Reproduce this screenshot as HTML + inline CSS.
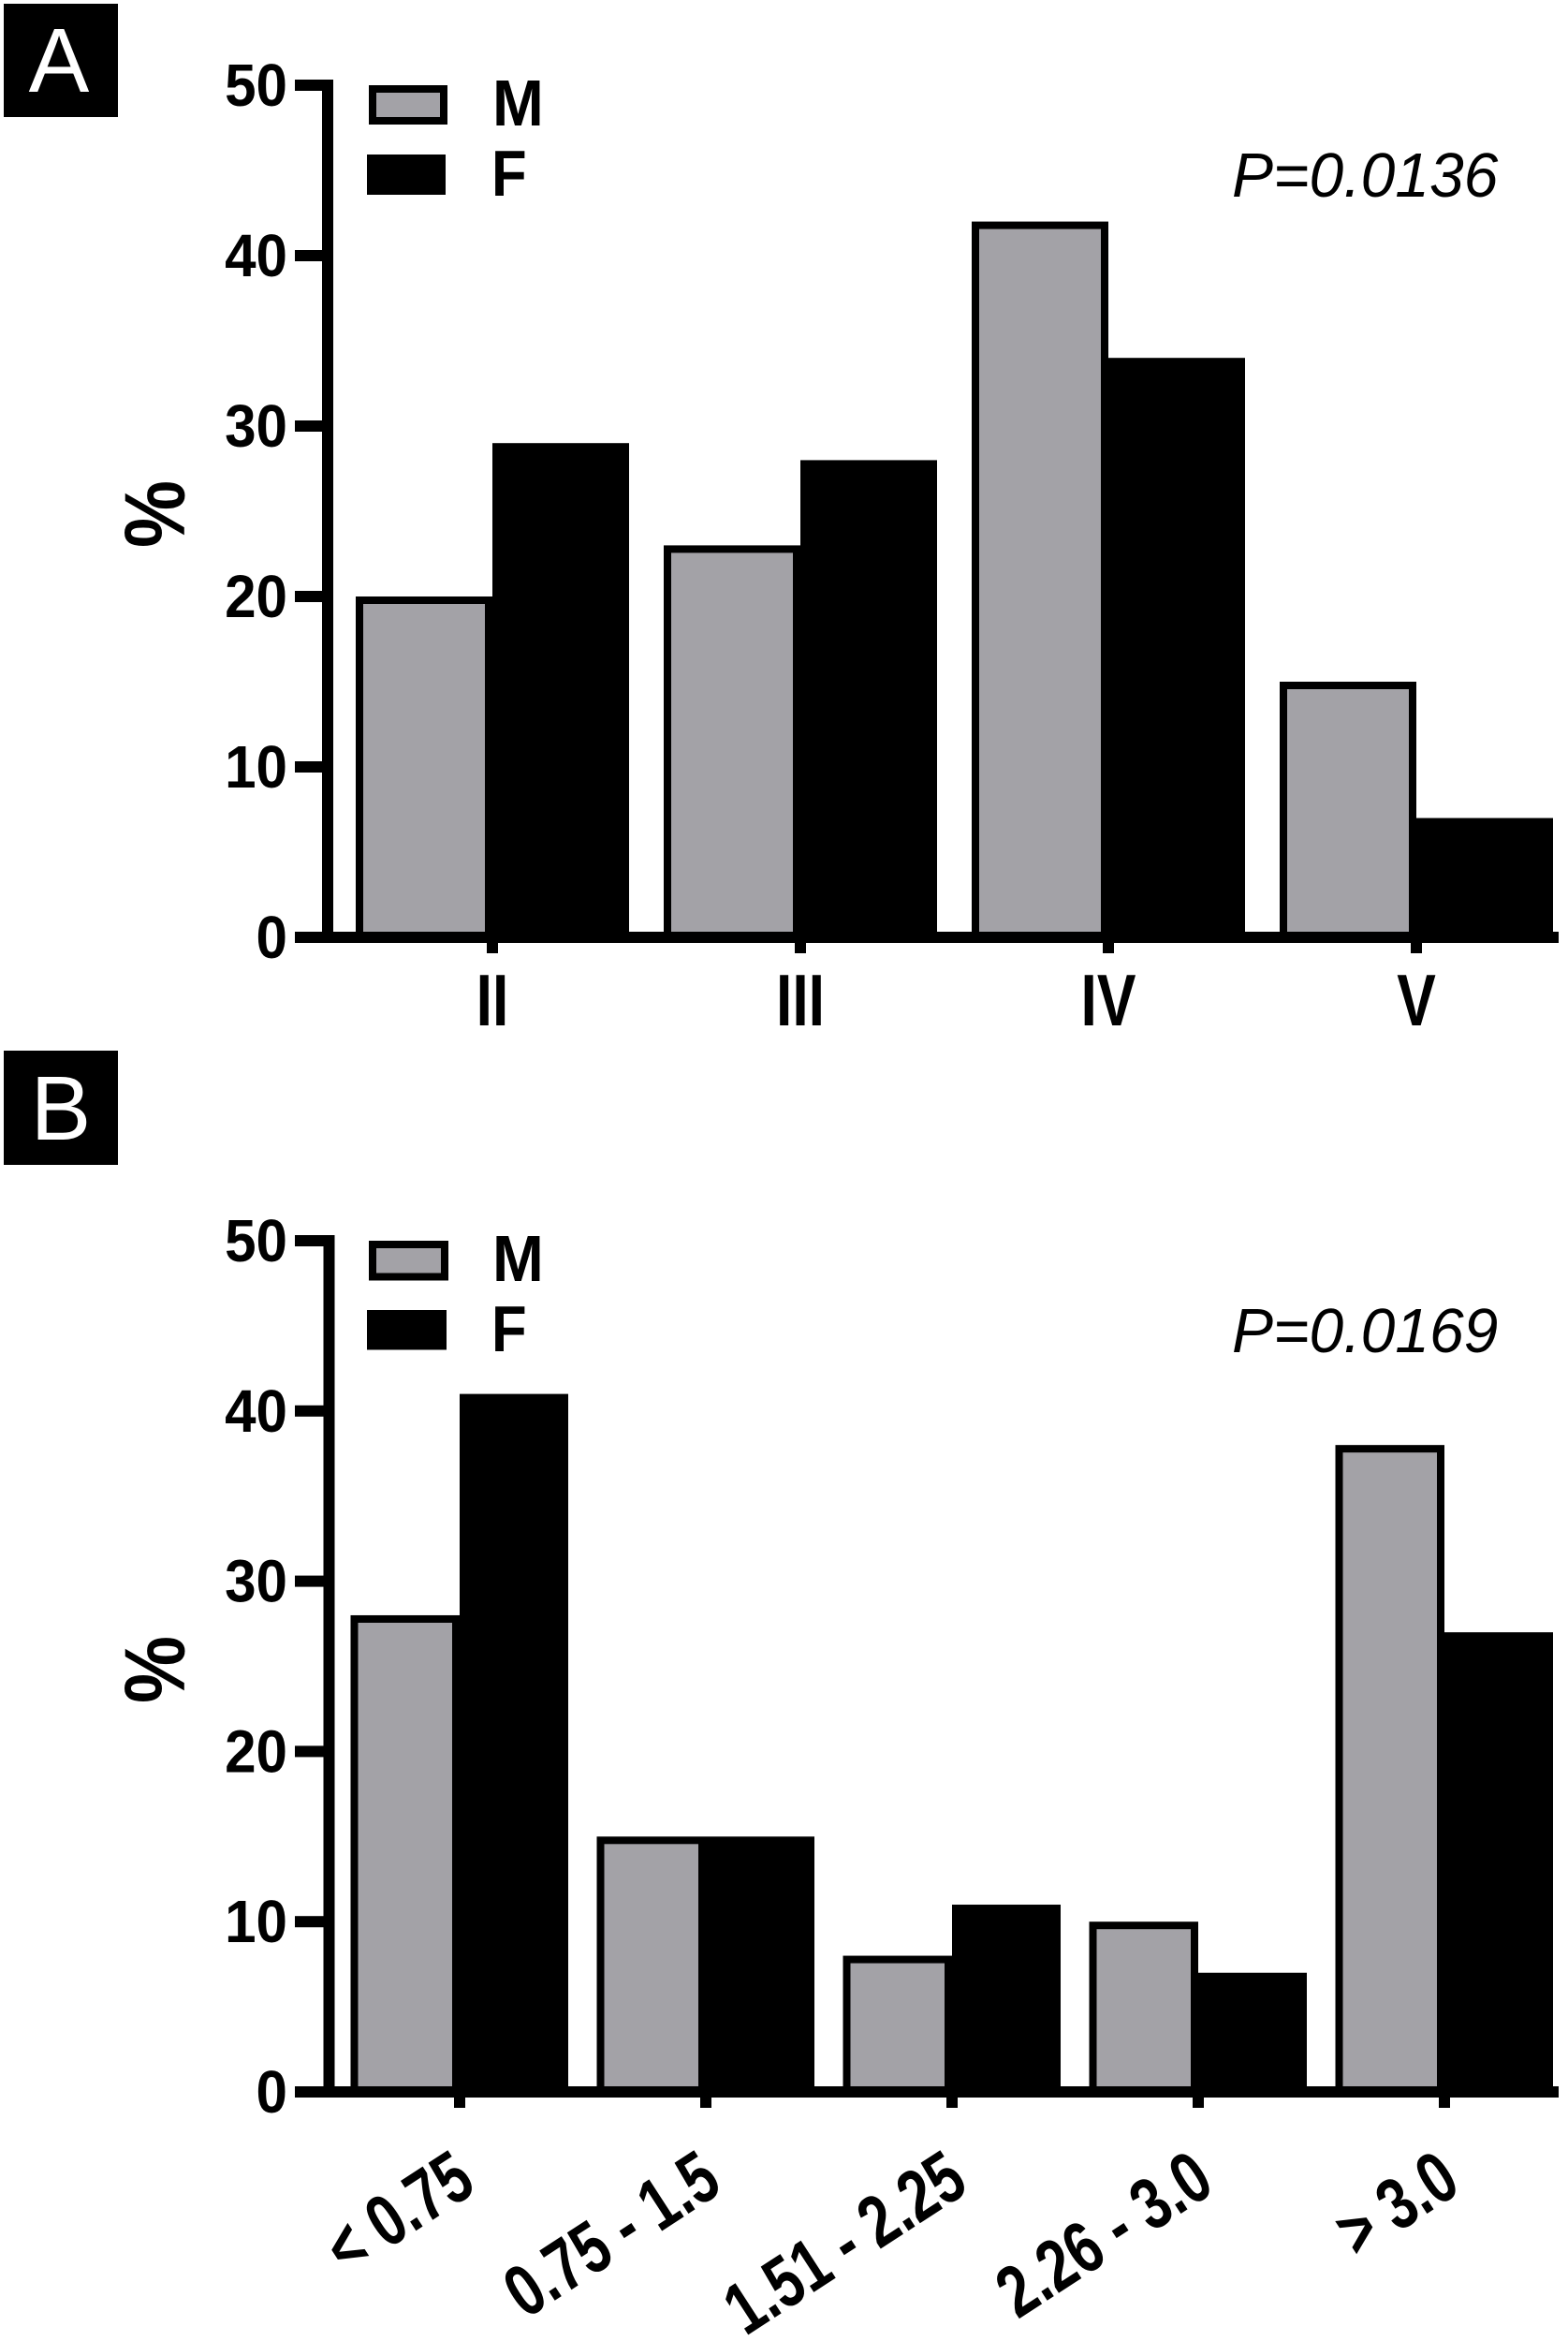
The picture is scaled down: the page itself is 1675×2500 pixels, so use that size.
<!DOCTYPE html>
<html>
<head>
<meta charset="utf-8">
<title>Bar charts A and B</title>
<style>
html,body{margin:0;padding:0;background:#fff;}
svg{display:block;}
text{font-family:"Liberation Sans",sans-serif;fill:#000;}
</style>
</head>
<body>
<svg id="figure" xmlns="http://www.w3.org/2000/svg" width="1675" height="2500" viewBox="0 0 1675 2500">
  <rect x="0" y="0" width="1675" height="2500" fill="#fff"/>

  <rect x="4" y="4" width="122" height="121" fill="#000"/>
  <text x="63" y="98" font-size="97" text-anchor="middle" style="fill:#fff">A</text>
  <rect x="4" y="1122" width="122" height="122" fill="#000"/>
  <text x="65" y="1217" font-size="97" text-anchor="middle" style="fill:#fff">B</text>

  <rect x="398" y="95" width="76" height="34" fill="#a3a2a7" stroke="#000" stroke-width="8"/>
  <rect x="392" y="165" width="84" height="43" fill="#000"/>
  <text transform="translate(526,134) scale(0.94,1)" font-size="70" font-weight="bold">M</text>
  <text transform="translate(525,209) scale(0.88,1)" font-size="70" font-weight="bold">F</text>
  <text transform="translate(1316,210) scale(0.985,1)" font-size="67" font-style="italic">P=0.0136</text>

  <rect x="398" y="1329" width="77" height="34.5" fill="#a3a2a7" stroke="#000" stroke-width="8"/>
  <rect x="392" y="1399" width="85" height="42.5" fill="#000"/>
  <text transform="translate(526,1368) scale(0.94,1)" font-size="70" font-weight="bold">M</text>
  <text transform="translate(525,1443) scale(0.88,1)" font-size="70" font-weight="bold">F</text>
  <text transform="translate(1316,1444) scale(0.985,1)" font-size="67" font-style="italic">P=0.0169</text>

  <text transform="translate(197,549) rotate(-90) scale(0.88,1)" font-size="92" font-weight="bold" text-anchor="middle">%</text>
  <text transform="translate(197,1783) rotate(-90) scale(0.88,1)" font-size="92" font-weight="bold" text-anchor="middle">%</text>
</svg>
<script>
var yTicks = [0, 10, 20, 30, 40, 50];

var panelACategories = ['II', 'III', 'IV', 'V'];
var panelAMale = [20, 23, 42, 15];
var panelAFemale = [29, 28, 34, 7];

var panelBCategories = ['< 0.75', '0.75 - 1.5', '1.51 - 2.25', '2.26 - 3.0', '> 3.0'];
var panelBMale = [28, 15, 8, 10, 38];
var panelBFemale = [41, 15, 11, 7, 27];

var NS = 'http://www.w3.org/2000/svg';
var svg = document.getElementById('figure');

function make(tag, attrs) {
  var el = document.createElementNS(NS, tag);
  for (var k in attrs) { el.setAttribute(k, attrs[k]); }
  svg.appendChild(el);
  return el;
}

function drawPanel(prefix, cats, male, female, g) {
  function yScale(v) { return g.y0 - v * g.unit; }
  function xCenter(i) { return g.c0 + i * g.spacing; }

  cats.forEach(function (cat, i) {
    var c = xCenter(i);
    var topF = yScale(female[i]);
    var fBar = make('rect', { x: c, y: topF, width: g.barRight, height: g.y0 - topF, fill: '#000' });
    
    

    var topM = yScale(male[i]);
    var mBar = make('rect', {
      x: c - g.barLeft + 4, y: topM + 4,
      width: g.barLeft - 8, height: g.y0 - topM - 4,
      fill: '#a3a2a7', stroke: '#000', 'stroke-width': 8
    });
    
    
  });

  var yAxis = make('rect', { x: g.axisX, y: yScale(50) - 6, width: 12, height: g.y0 - yScale(50) + 12, fill: '#000' });
  
  

  var xAxis = make('rect', { x: 315, y: g.y0 - 6, width: 1665 - 315, height: 12, fill: '#000' });
  
  

  yTicks.forEach(function (t) {
    var y = yScale(t);
    var mark = make('rect', { x: 315, y: y - 6, width: g.axisX - 315, height: 12, fill: '#000' });
    
    

    var label = make('text', {
      transform: 'translate(307,' + (y + 22) + ') scale(0.94,1)',
      'font-size': 64, 'font-weight': 'bold', 'text-anchor': 'end'
    });
    label.textContent = String(t);
    
    
  });

  cats.forEach(function (cat, i) {
    var c = xCenter(i);
    var mark = make('rect', { x: c - 6, y: g.y0 + 6, width: 12, height: 11, fill: '#000' });
    
    

    var transform = g.rotated
      ? 'translate(' + (c + 20) + ',' + (g.y0 + 105) + ') rotate(-33) scale(0.77,1)'
      : 'translate(' + c + ',' + (g.y0 + 94) + ') scale(0.8,1)';
    var label = make('text', {
      transform: transform,
      'font-size': 78, 'font-weight': 'bold',
      'text-anchor': g.rotated ? 'end' : 'middle'
    });
    label.textContent = cat;
    
    
  });
}

drawPanel('panel-a', panelACategories, panelAMale, panelAFemale, {
  y0: 1001, unit: 18.2, c0: 526, spacing: 329, barLeft: 146, barRight: 146, axisX: 344, rotated: false
});
drawPanel('panel-b', panelBCategories, panelBMale, panelBFemale, {
  y0: 2234, unit: 18.18, c0: 491, spacing: 263, barLeft: 116.5, barRight: 116, axisX: 345.5, rotated: true
});
</script>
</body>
</html>
